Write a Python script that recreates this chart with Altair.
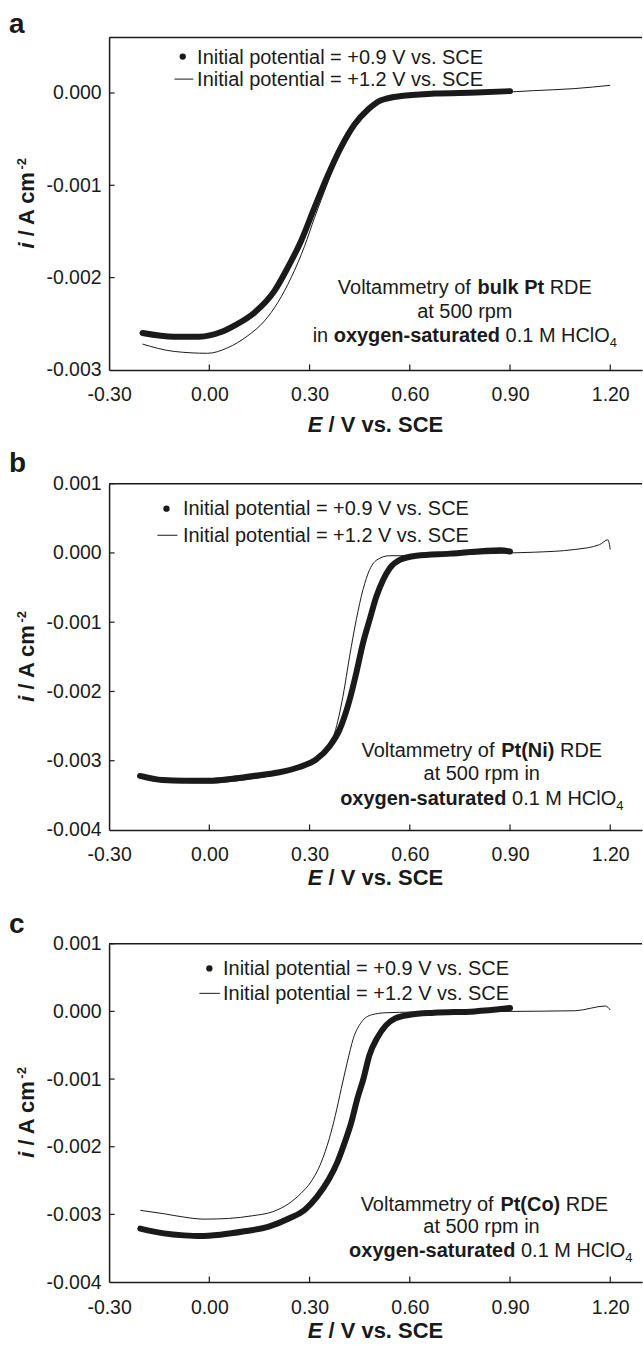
import altair as alt
import pandas as pd

FONT = "Liberation Sans"
INK = "#1a1a1a"

# ---------------- data ----------------
x_ticks = [-0.3, 0.0, 0.3, 0.6, 0.9, 1.2]
y_ticks_a = [-0.003, -0.002, -0.001, 0.0]
y_ticks_bc = [-0.004, -0.003, -0.002, -0.001, 0.0, 0.001]

# panel a : bulk Pt
a_E_09 = [-0.20, -0.105, -0.03, 0.035, 0.075, 0.135, 0.194, 0.235, 0.275, 0.315, 0.354, 0.394,
          0.435, 0.475, 0.514, 0.574, 0.674, 0.80, 0.90]
a_i_09 = [-0.00260, -0.00264, -0.00264, -0.00259, -0.00252, -0.00238, -0.00215, -0.00189,
          -0.00160, -0.00124, -0.00090, -0.00059, -0.00034, -0.00018, -0.00008, -0.000033,
          -0.000007, 0.000005, 0.00002]
a_E_12 = [-0.20, -0.105, -0.005, 0.055, 0.115, 0.165, 0.205, 0.245, 0.285, 0.315, 0.345,
          0.374, 0.41, 0.445, 0.485, 0.52, 0.58, 0.68, 0.896, 0.970, 1.092, 1.20]
a_i_12 = [-0.00272, -0.00280, -0.00282, -0.00276, -0.00263, -0.00247, -0.00227, -0.00200,
          -0.00166, -0.00135, -0.00106, -0.00079, -0.00050, -0.00029, -0.00015, -0.00007,
          -0.00003, -0.00001, 0.00001, 0.000025, 0.000047, 0.000083]

# panel b : Pt(Ni)
b_E_09 = [-0.2075, -0.14, -0.078, 0.0, 0.07, 0.132, 0.206, 0.27, 0.32, 0.36, 0.39, 0.42,
          0.44, 0.46, 0.48, 0.50, 0.52, 0.54, 0.57, 0.62, 0.72, 0.87, 0.9]
b_i_09 = [-0.00322, -0.00328, -0.00329, -0.00329, -0.00326, -0.00322, -0.00317, -0.00309,
          -0.00298, -0.00279, -0.00255, -0.00212, -0.00173, -0.0013, -0.00096, -0.00063,
          -0.00039, -0.00022, -0.0001, -0.00004, -0.00001, 0.00004, 0.00002]
b_E_12 = [-0.2, -0.1, 0.0, 0.1, 0.2, 0.3, 0.36, 0.375, 0.40, 0.42, 0.44, 0.46, 0.48,
          0.505, 0.54, 0.6, 0.9, 0.97, 1.094, 1.168, 1.193, 1.2]
b_i_12 = [-0.00325, -0.00331, -0.00332, -0.00328, -0.0032, -0.00303, -0.00279, -0.0026,
          -0.00207, -0.00149, -0.00096, -0.00053, -0.00024, -0.00009, -0.00004, -0.00004,
          0.0, 0.00001, 0.00005, 0.00012, 0.00019, 0.00005]

# panel c : Pt(Co)
c_E_09 = [-0.2065, -0.136, -0.076, -0.028, 0.033, 0.105, 0.178, 0.238, 0.286, 0.322, 0.359,
          0.383, 0.407, 0.425, 0.443, 0.461, 0.479, 0.504, 0.528, 0.558, 0.6, 0.673, 0.793, 0.9]
c_i_09 = [-0.00321, -0.00328, -0.00331, -0.00332, -0.0033, -0.00325, -0.00318, -0.00306,
          -0.00293, -0.00274, -0.00247, -0.00223, -0.00191, -0.00164, -0.00129, -0.001,
          -0.00065, -0.00038, -0.00021, -0.0001, -0.00005, -0.00002, 0.0, 0.00005]
c_E_12 = [-0.2065, -0.136, -0.076, -0.016, 0.057, 0.129, 0.19, 0.238, 0.274, 0.304, 0.335,
          0.359, 0.377, 0.395, 0.413, 0.431, 0.455, 0.486, 0.528, 0.612, 0.9, 1.095, 1.186, 1.2]
c_i_12 = [-0.00294, -0.00299, -0.00304, -0.00307, -0.00306, -0.00302, -0.00296, -0.00284,
          -0.00269, -0.00252, -0.00223, -0.00188, -0.00154, -0.00114, -0.00075, -0.0004,
          -0.00016, -0.00005, -0.00002, -0.00001, 0.0, 0.00001, 0.00008, 0.00002]

legend_09 = "Initial potential = +0.9 V vs. SCE"
legend_12 = "Initial potential = +1.2 V vs. SCE"

# ---------------- text metrics (Arial / Liberation Sans) ----------------
_low = "abcdefghijklmnopqrstuvwxyz"
_up = "ABCDEFGHIJKLMNOPQRSTUVWXYZ"
REG = dict(zip(_low, [556, 556, 500, 556, 556, 278, 556, 556, 222, 222, 500, 222, 833, 556, 556,
                      556, 556, 333, 500, 278, 556, 500, 722, 500, 500, 500]))
REG.update(zip(_up, [667, 667, 722, 722, 667, 611, 778, 722, 278, 500, 667, 556, 833, 722, 778,
                     667, 778, 722, 667, 611, 722, 667, 944, 667, 667, 611]))
BOLD = dict(zip(_low, [556, 611, 556, 611, 556, 333, 611, 611, 278, 278, 556, 278, 889, 611, 611,
                       611, 611, 389, 556, 333, 611, 556, 778, 556, 556, 500]))
BOLD.update(zip(_up, [722, 722, 722, 722, 667, 611, 778, 722, 278, 556, 722, 611, 833, 722, 778,
                      667, 778, 722, 667, 611, 722, 667, 944, 667, 667, 611]))
for t in (REG, BOLD):
    t.update({" ": 278, ".": 278, "-": 333, "+": 584, "=": 584, "/": 278, "(": 333, ")": 333})
    t.update({d: 556 for d in "0123456789"})


def tw(s, size, weight="normal"):
    tab = BOLD if weight == "bold" else REG
    return sum(tab.get(c, 556) for c in s) * size / 1000.0


ONE = pd.DataFrame({"k": [0]})


def txt(t, x, y, size=20, weight="normal", style="normal", align="left", angle=0):
    return alt.Chart(ONE).mark_text(
        text=t, font=FONT, fontSize=size, fontWeight=weight, fontStyle=style,
        align=align, baseline="alphabetic", angle=angle, color=INK
    ).encode(x=alt.value(x), y=alt.value(y))


def rich(segs, cx, y):
    """segs: list of (text, weight, style, size, dy); centred on cx."""
    total = sum(tw(s[0], s[3], s[1]) for s in segs)
    pos = cx - total / 2.0
    out = []
    for t, w, st, sz, dy in segs:
        lead = len(t) - len(t.lstrip(" "))
        x = pos + tw(" " * lead, sz, w)
        if t.strip():
            out.append(txt(t.strip(), x, y + dy, sz, w, st))
        pos += tw(t, sz, w)
    return out


def N(t, size=20):
    return (t, "normal", "normal", size, 0)


def B(t, size=20):
    return (t, "bold", "normal", size, 0)


SUB4 = ("4", "normal", "normal", 13, 5)

W = 534
xscale = alt.Scale(domain=[-0.3, 1.295], nice=False, zero=False)
xaxis = alt.Axis(values=x_ticks, labelExpr="(datum.value < 0 ? '-' : '') + format(abs(datum.value), '.2f')",
                 ticks=False, tickSize=0, labelPadding=16, domainColor=INK, domainWidth=1.5,
                 grid=False, title=None, labelFont=FONT, labelFontSize=19.5, labelColor=INK,
                 labelFlush=False, labelOverlap=False)


def panel(letter, letter_y, H, ydom, yticks, E09, i09, E12, i12, leg, ann, title_dy):
    yscale = alt.Scale(domain=ydom, nice=False, zero=False)
    yaxis = alt.Axis(values=yticks, labelExpr="(datum.value < 0 ? '-' : '') + format(abs(datum.value), '.3f')",
                     ticks=False, tickSize=0, labelPadding=8, domainColor=INK, domainWidth=1.5,
                     grid=False, title=None, labelFont=FONT, labelFontSize=19.5, labelColor=INK,
                     labelFlush=False, labelOverlap=False)
    X = alt.X("E:Q", scale=xscale, axis=xaxis)
    Y = alt.Y("i:Q", scale=yscale, axis=yaxis)

    d09 = pd.DataFrame({"E": E09, "i": i09})
    d12 = pd.DataFrame({"E": E12, "i": i12})
    thin = alt.Chart(d12).mark_line(color=INK, strokeWidth=1, interpolate="monotone").encode(x=X, y=Y)
    thick = alt.Chart(d09).mark_line(color=INK, strokeWidth=6, strokeCap="round", strokeJoin="round",
                                     interpolate="monotone").encode(x=X, y=Y)

    xt = alt.Chart(pd.DataFrame({"E": [v for v in x_ticks if v > -0.3]})).mark_rule(
        color=INK, strokeWidth=1.2).encode(x=X, y=alt.value(H), y2=alt.value(H - 5.5))
    yt = alt.Chart(pd.DataFrame({"i": [v for v in yticks if v > ydom[0]]})).mark_rule(
        color=INK, strokeWidth=1.2).encode(y=Y, x=alt.value(0), x2=alt.value(5.5))
    top = alt.Chart(ONE).mark_rule(color=INK, strokeWidth=1.5).encode(
        x=alt.value(0), x2=alt.value(W), y=alt.value(0))

    layers = [thin, thick, xt, yt, top]

    # legend
    (dx, dy), tx, b1, (lx0, lx1, ly), b2 = leg
    layers.append(alt.Chart(ONE).mark_circle(color=INK, opacity=1, size=40).encode(
        x=alt.value(dx), y=alt.value(dy)))
    layers.append(txt(legend_09, tx, b1))
    layers.append(alt.Chart(ONE).mark_rule(color=INK, strokeWidth=1).encode(
        x=alt.value(lx0), x2=alt.value(lx1), y=alt.value(ly)))
    layers.append(txt(legend_12, tx, b2))

    # annotation
    for segs, cx, by in ann:
        layers += rich(segs, cx, by)

    # panel letter
    layers.append(txt(letter, -100.2, letter_y, 28, "bold"))

    # x title
    layers += rich([("E", "bold", "italic", 22, 0), (" / V vs. SCE", "bold", "normal", 22, 0)],
                   W / 2.0, H + title_dy)

    # y title (rotated)
    y0 = H / 2.0 + 38.8
    layers.append(txt("i", -75, y0, 22, "bold", "italic", align="right", angle=270))
    layers.append(txt("/ A cm", -75, y0 - tw(" ", 22, "bold"), 22, "bold", align="left", angle=270))
    layers.append(txt("-2", -83, y0 - tw(" / A cm", 22, "bold") - 1, 13, "bold", align="left", angle=270))

    return alt.layer(*layers).properties(width=W, height=H)


pa = panel("a", -4.3, 333, [-0.003, 0.0006], y_ticks_a, a_E_09, a_i_09, a_E_12, a_i_12,
           ((73.8, 19), 88.2, 26, (65.5, 84.5, 41.6), 48.6),
           [([N("Voltammetry of "), B("bulk Pt"), N(" RDE")], 356.5, 257),
            ([N("at 500 rpm")], 356.5, 281.3),
            ([N("in "), B("oxygen-saturated"), N(" 0.1 M HClO"), SUB4], 356.5, 304.7)],
           62)

pb = panel("b", -11.6, 347, [-0.004, 0.001], y_ticks_bc, b_E_09, b_i_09, b_E_12, b_i_12,
           ((57.5, 25), 74, 31.7, (48.5, 68.5, 51.7), 58.7),
           [([N("Voltammetry of "), B("Pt(Ni)"), N(" RDE")], 373.5, 273.7),
            ([N("at 500 rpm in")], 373.5, 296.7),
            ([B("oxygen-saturated"), N(" 0.1 M HClO"), SUB4], 373.5, 321.7)],
           55)

pc = panel("c", -11, 339, [-0.004, 0.001], y_ticks_bc, c_E_09, c_i_09, c_E_12, c_i_12,
           ((100.5, 24.7), 114.2, 31.7, (90.5, 111, 49.7), 56.7),
           [([N("Voltammetry of "), B("Pt(Co)"), N(" RDE")], 376, 267.7),
            ([N("at 500 rpm  in")], 376, 289.7),
            ([B("oxygen-saturated"), N(" 0.1 M HClO"), SUB4], 382.5, 313.7)],
           56)

chart = alt.vconcat(pa, pb, pc, spacing=114, bounds="flush").properties(
    padding={"left": 8.3, "top": 9.3, "right": 0, "bottom": 0}
).configure_view(stroke=None)

chart.save("out.html", embed_options={"renderer": "svg", "actions": False})
